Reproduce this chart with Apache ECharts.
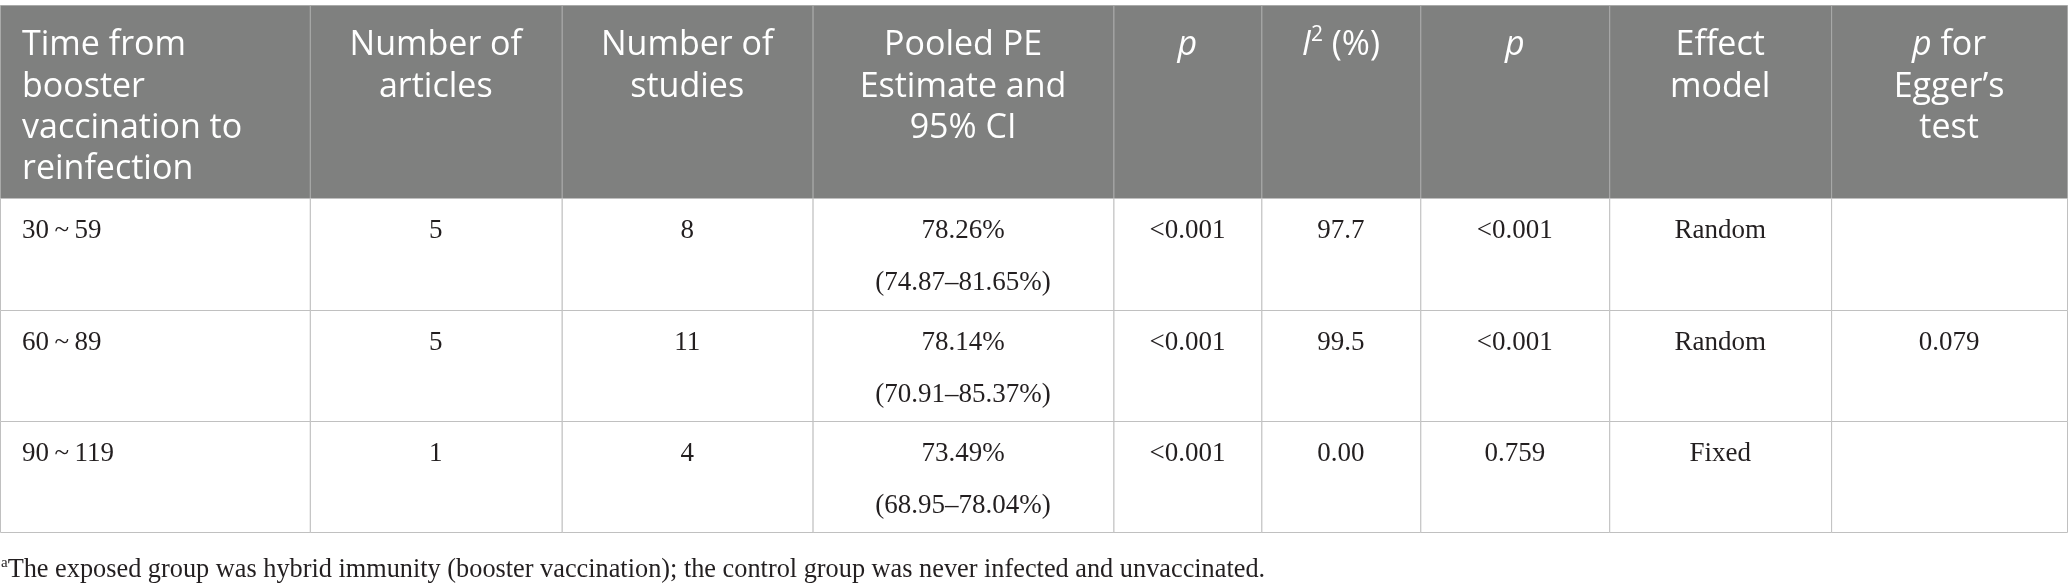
<!DOCTYPE html>
<html>
<head>
<meta charset="utf-8">
<script src="https://cdn.jsdelivr.net/npm/echarts@6/dist/echarts.min.js"></script>
<style>
    html, body { margin: 0; padding: 0; background: #fff; }
    #chart { width: 2068px; height: 584px; }
</style>
</head>
<body>
<div id="chart"></div>
<script>
// table content
const headerLabels = [
    'Time from\nbooster\nvaccination to\nreinfection',
    'Number of\narticles',
    'Number of\nstudies',
    'Pooled PE\nEstimate and\n95% CI',
    '{it|p}',
    '{it|I}{sup|2} (%)',
    '{it|p}',
    'Effect\nmodel',
    '{it|p} for\nEgger\u2019s\ntest'
];
const periods = ['30\u2009~\u200959', '60\u2009~\u200989', '90\u2009~\u2009119'];
const articles = [5, 5, 1];
const studies = [8, 11, 4];
const pooledPE = ['78.26%', '78.14%', '73.49%'];
const pooledCI = ['(74.87\u201381.65%)', '(70.91\u201385.37%)', '(68.95\u201378.04%)'];
const pOverall = ['<0.001', '<0.001', '<0.001'];
const i2Values = ['97.7', '99.5', '0.00'];
const pHeterogeneity = ['<0.001', '<0.001', '0.759'];
const effectModels = ['Random', 'Random', 'Fixed'];
const eggerP = ['', '0.079', ''];
const footnote = '{sup|a}The exposed group was hybrid immunity (booster vaccination); the control group was never infected and unvaccinated.';

// layout
const colWidths = [310, 252, 251, 301, 148, 159, 189, 222, 236];
const rowHeights = [193, 112, 111, 111];
const colEdges = [0];
colWidths.forEach(w => colEdges.push(colEdges[colEdges.length - 1] + w));
const rowEdges = [0];
rowHeights.forEach(h => rowEdges.push(rowEdges[rowEdges.length - 1] + h));

const headerFont = 'Open Sans';
const bodyFont = 'Liberation Serif';

const bodyColumns = [
    periods,
    articles.map(String),
    studies.map(String),
    pooledPE.map((v, i) => v + '\n' + pooledCI[i]),
    pOverall,
    i2Values,
    pHeterogeneity,
    effectModels,
    eggerP
];

const cells = [];
for (let r = 0; r < rowHeights.length; r++) {
    for (let c = 0; c < colWidths.length; c++) {
        cells.push([c, r]);
    }
}

function renderCell(params, api) {
    const c = api.value(0);
    const r = api.value(1);
    const p0 = api.coord([colEdges[c], rowEdges[r]]);
    const p1 = api.coord([colEdges[c + 1], rowEdges[r + 1]]);
    const isHeader = r === 0;
    const left = c === 0;
    const text = isHeader ? headerLabels[c] : bodyColumns[c][r - 1];
    const textX = left ? p0[0] + 22 : (p0[0] + p1[0]) / 2;

    return {
        type: 'group',
        children: [
            {
                type: 'rect',
                shape: { x: p0[0] + 0.5, y: p0[1] + 0.5, width: p1[0] - p0[0], height: p1[1] - p0[1] },
                style: {
                    fill: isHeader ? '#7f807f' : '#fff',
                    stroke: isHeader ? '#a9aaa9' : '#c0c0c0',
                    lineWidth: 1
                }
            },
            {
                type: 'text',
                style: {
                    text: text,
                    x: textX,
                    y: p0[1] + (isHeader ? 20 : 7),
                    align: left ? 'left' : 'center',
                    verticalAlign: 'top',
                    fill: isHeader ? '#fff' : '#231f20',
                    fontFamily: isHeader ? headerFont : bodyFont,
                    fontSize: isHeader ? 34 : 27,
                    lineHeight: isHeader ? 41.3 : 51.7,
                    rich: isHeader ? {
                        it: { fontFamily: headerFont, fontSize: 34, fontStyle: 'italic', fill: '#fff', lineHeight: 41.3 },
                        sup: { fontFamily: headerFont, fontSize: 21, fill: '#fff', verticalAlign: 'top', lineHeight: 41.3 }
                    } : undefined
                }
            }
        ]
    };
}

const chart = echarts.init(document.getElementById('chart'));
chart.setOption({
    animation: false,
    backgroundColor: '#fff',
    title: {
        text: footnote,
        left: 1,
        top: 556,
        padding: 0,
        textStyle: {
            fontFamily: bodyFont,
            fontSize: 26.3,
            fontWeight: 'normal',
            color: '#231f20',
            lineHeight: 28,
            rich: {
                sup: { fontFamily: bodyFont, fontSize: 15, color: '#231f20', verticalAlign: 'top', lineHeight: 28 }
            }
        }
    },
    grid: { left: 0, top: 5, width: 2067, height: 527 },
    xAxis: { type: 'value', min: 0, max: colEdges[colEdges.length - 1], show: false },
    yAxis: { type: 'value', min: 0, max: rowEdges[rowEdges.length - 1], inverse: true, show: false },
    series: [{
        type: 'custom',
        renderItem: renderCell,
        data: cells,
        silent: true
    }]
});
</script>
</body>
</html>
